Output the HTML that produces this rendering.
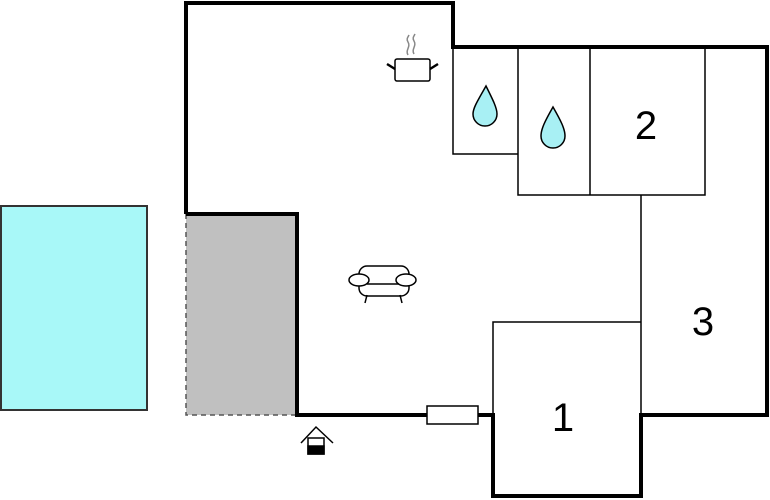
<!DOCTYPE html>
<html><head><style>body{margin:0;background:#fff}svg{display:block}</style></head><body>
<svg width="770" height="500" xmlns="http://www.w3.org/2000/svg" font-family="Liberation Sans, sans-serif">
<rect x="1" y="206" width="146" height="204" fill="#a8f8f8" stroke="#333" stroke-width="2"/>
<rect x="186" y="214" width="111" height="201" fill="#c0c0c0"/>
<path d="M186,214 V415 H297" fill="none" stroke="#555" stroke-width="1.5" stroke-dasharray="5,4"/>
<g stroke="#000" fill="none" stroke-width="1.5">
<path d="M453,47 V154 H518"/>
<path d="M518,47 V195 H705 V47"/>
<path d="M590,47 V195"/>
<path d="M641,195 V415"/>
<path d="M493,415 V322 H641"/>
</g>
<g stroke="#000" fill="none" stroke-width="4">
<path d="M186,214 V3 H453 V47 H767 V415 H641 V496 H493 V415 H478"/>
<path d="M427,415 H297 V214 H186"/>
</g>
<rect x="427" y="406" width="51" height="18" fill="#fff" stroke="#000" stroke-width="1.5"/>
<g fill="#a8f0f4" stroke="#000" stroke-width="1.5">
<path d="M486,86 C478,100 473,108 473,114 A12,12 0 0 0 497,114 C497,108 493,100 486,86Z"/>
<path d="M553,107 C545,121 541,129 541,136 A12,12 0 0 0 565,136 C565,129 561,121 553,107Z"/>
</g>
<g stroke="#000" stroke-width="1.5" fill="#fff">
<rect x="395" y="59" width="35" height="22" rx="2"/>
<path d="M387,64 L395,69 M438,64 L430,69" stroke-width="2.5"/>
<path d="M408,55 c-3,-5 3,-8 0,-13 c-2,-3 0,-5 1,-7 M414,54 c-3,-5 3,-8 0,-13 c-2,-3 0,-5 1,-7" stroke="#888" fill="none"/>
</g>
<g stroke="#000" stroke-width="1.5" fill="#fff">
<rect x="359" y="266" width="50" height="30" rx="8"/>
<ellipse cx="359" cy="280" rx="10" ry="6"/>
<ellipse cx="406" cy="280" rx="10" ry="6"/>
<path d="M367,284 H399 M367,295 L365,303 M400,295 L402,303" fill="none"/>
</g>
<g stroke="#000" stroke-width="1.5">
<path d="M301,443 L316,427 L333,443" fill="none"/>
<rect x="308" y="438" width="16" height="16" fill="#fff"/>
<rect x="308" y="446" width="16" height="8" fill="#000"/>
</g>
<g font-size="40" text-anchor="middle" fill="#000">
<text x="646" y="139">2</text>
<text x="703" y="335">3</text>
<text x="563" y="431">1</text>
</g>
</svg>
</body></html>
